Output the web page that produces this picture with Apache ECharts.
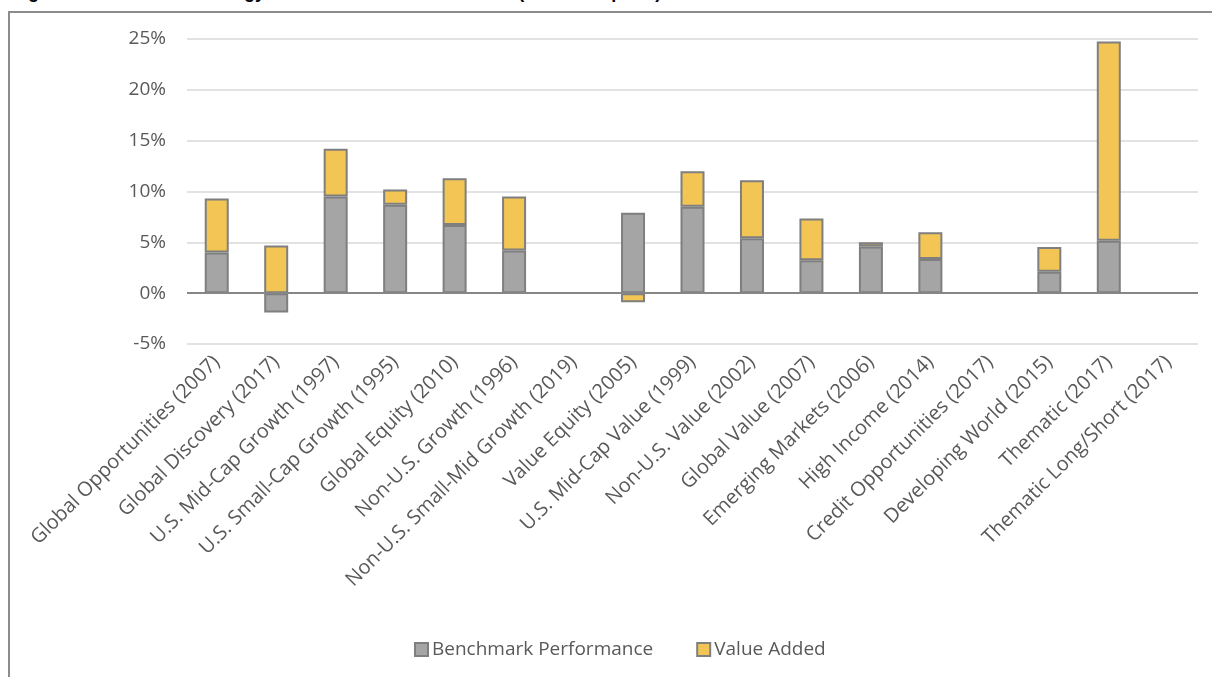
<!DOCTYPE html>
<html lang="en">
<head>
    <meta charset="UTF-8">
    <title>Strategy Performance vs. Benchmark</title>
    <script src="https://cdn.jsdelivr.net/npm/echarts@6.0.0/dist/echarts.min.js"></script>
    <style>
        * { margin: 0; padding: 0; box-sizing: border-box; }
        html, body { width: 1212px; height: 677px; overflow: hidden; background: #fff; }
        .caption {
            position: absolute;
            left: 12px;
            top: -18px;
            font-family: 'Liberation Sans', Arial, sans-serif;
            font-weight: bold;
            font-size: 18px;
            color: #000;
            white-space: nowrap;
        }
        .frame {
            position: absolute;
            left: 8px;
            top: 11px;
            width: 1220px;
            height: 680px;
            border-left: 2px solid #8c8c8c;
            border-top: 2px solid #8c8c8c;
        }
        #chart {
            position: absolute;
            left: 0;
            top: 0;
            width: 1212px;
            height: 677px;
        }
    </style>
</head>
<body>
    <div class="caption">Figure 3: Investment Strategy Performance vs. Benchmark (since Inception)</div>
    <div class="frame"></div>
    <div id="chart"></div>

    <script>
        // strategies (inception year)
        const categories = [
            'Global Opportunities (2007)',
            'Global Discovery (2017)',
            'U.S. Mid-Cap Growth (1997)',
            'U.S. Small-Cap Growth (1995)',
            'Global Equity (2010)',
            'Non-U.S. Growth (1996)',
            'Non-U.S. Small-Mid Growth (2019)',
            'Value Equity (2005)',
            'U.S. Mid-Cap Value (1999)',
            'Non-U.S. Value (2002)',
            'Global Value (2007)',
            'Emerging Markets (2006)',
            'High Income (2014)',
            'Credit Opportunities (2017)',
            'Developing World (2015)',
            'Thematic (2017)',
            'Thematic Long/Short (2017)'
        ];

        // annualised returns, %
        const benchmark = [4.0, -1.9, 9.5, 8.7, 6.7, 4.2, null, 7.9, 8.5, 5.4, 3.25, 4.6, 3.35, null, 2.1, 5.15, null];
        const valueAdded = [5.3, 4.7, 4.7, 1.5, 4.6, 5.3, null, -0.9, 3.5, 5.7, 4.1, 0.4, 2.65, null, 2.45, 19.6, null];

        const seriesNames = ['Benchmark Performance', 'Value Added'];

        const font = "'Open Sans', 'Noto Sans', sans-serif";
        const textGray = '#595959';
        const edge = '#7f7f7f';

        const myChart = echarts.init(document.getElementById('chart'));

        const option = {
            animation: false,
            textStyle: { fontFamily: font },
            grid: {
                left: 187,
                right: 14,
                top: 39,
                bottom: 333
            },
            legend: {
                left: 409,
                top: 635,
                itemWidth: 13,
                itemHeight: 13,
                itemGap: 43,
                icon: 'rect',
                textStyle: { color: textGray, fontSize: 19, fontFamily: font, padding: [0, 0, 0, -1] },
                data: seriesNames
            },
            xAxis: {
                type: 'category',
                data: categories,
                axisLine: { show: false, onZero: false },
                axisTick: { show: false },
                axisLabel: {
                    interval: 0,
                    rotate: 45,
                    margin: 15,
                    color: textGray,
                    fontSize: 20,
                    fontFamily: font
                }
            },
            yAxis: {
                type: 'value',
                min: -5,
                max: 25,
                interval: 5,
                axisLine: { show: false },
                axisTick: { show: false },
                axisLabel: {
                    formatter: '{value}%',
                    color: textGray,
                    fontSize: 19,
                    margin: 21,
                    fontFamily: font
                },
                splitLine: { lineStyle: { color: '#d9d9d9', width: 1.5 } }
            },
            series: [
                {
                    name: seriesNames[0],
                    type: 'bar',
                    stack: 'total',
                    barWidth: 24,
                    data: benchmark,
                    itemStyle: { color: '#a5a5a5', borderColor: edge, borderWidth: 2 },
                    markLine: {
                        silent: true,
                        symbol: 'none',
                        label: { show: false },
                        lineStyle: { color: '#868686', width: 2, type: 'solid' },
                        data: [{ yAxis: 0 }]
                    }
                },
                {
                    name: seriesNames[1],
                    type: 'bar',
                    stack: 'total',
                    barWidth: 24,
                    data: valueAdded,
                    itemStyle: { color: '#f2c555', borderColor: edge, borderWidth: 2 }
                }
            ]
        };

        myChart.setOption(option);
    </script>
</body>
</html>
